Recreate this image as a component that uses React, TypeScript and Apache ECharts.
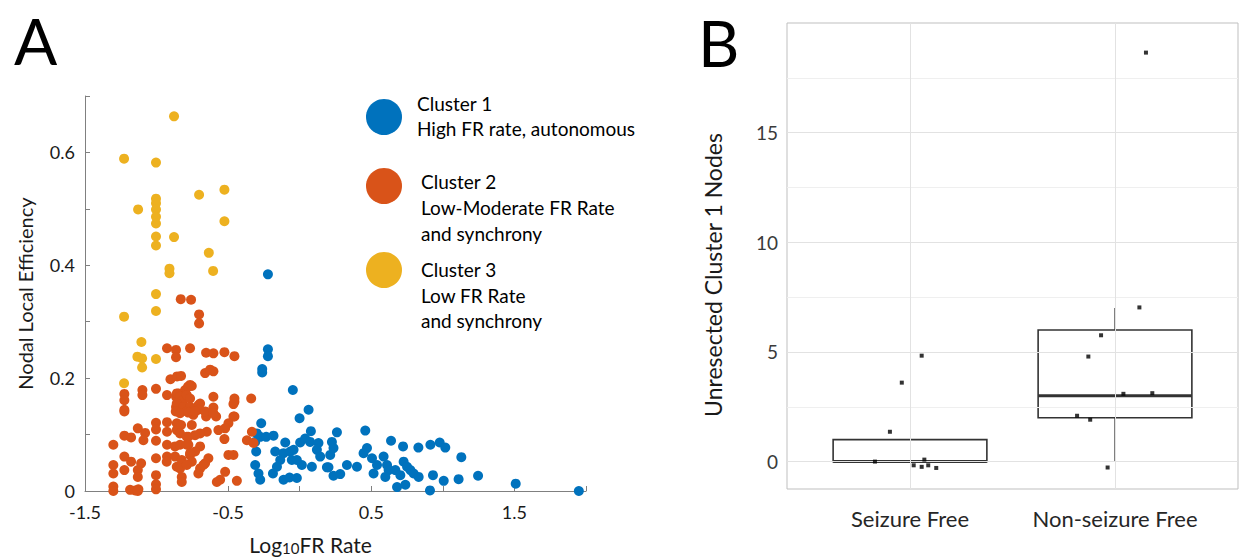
import React, { useEffect, useRef } from 'react';
import * as echarts from 'echarts';

// ---------- Panel A data (Log10 FR rate, nodal local efficiency) ----------
const cluster1: number[][] = [
  [-0.222, 0.384], [-0.222, 0.251], [-0.222, 0.239], [-0.262, 0.216], [-0.262, 0.21], [-0.048, 0.179],
  [0.062, 0.144], [-0.001, 0.129], [-0.269, 0.12], [0.458, 0.107], [0.26, 0.104], [0.078, 0.106],
  [0.638, 0.089], [0.722, 0.079], [0.829, 0.077], [0.913, 0.082], [0.978, 0.086], [1.017, 0.077],
  [1.129, 0.06], [1.246, 0.027], [1.509, 0.013], [1.95, 0.0], [0.91, 0.001], [0.68, 0.007],
  [0.738, 0.011], [1.006, 0.018], [1.11, 0.021], [0.931, 0.028],
  [-0.276, 0.096], [-0.234, 0.096], [-0.183, 0.098], [-0.101, 0.086], [0.003, 0.086], [0.038, 0.093],
  [0.073, 0.087], [0.131, 0.085], [0.225, 0.087], [0.236, 0.076], [0.213, 0.064], [0.19, 0.042],
  [-0.304, 0.07], [-0.171, 0.07], [-0.113, 0.067], [-0.066, 0.07], [-0.043, 0.073], [0.47, 0.076],
  [0.446, 0.067], [0.505, 0.058], [0.54, 0.046], [0.516, 0.031], [0.586, 0.061], [0.61, 0.046],
  [0.621, 0.037], [0.598, 0.025], [0.726, 0.052], [0.75, 0.043], [0.773, 0.037], [0.796, 0.031],
  [0.831, 0.025], [0.668, 0.037], [0.703, 0.028], [-0.311, 0.046], [-0.288, 0.031], [-0.276, 0.02],
  [-0.187, 0.031], [-0.113, 0.02], [-0.071, 0.024], [-0.02, 0.023], [0.015, 0.046], [0.085, 0.043],
  [0.12, 0.073], [0.143, 0.061], [0.201, 0.042], [0.236, 0.027], [0.283, 0.03], [0.33, 0.046],
  [0.4, 0.043], [-0.136, 0.055], [-0.159, 0.043], [-0.055, 0.055], [-0.02, 0.055], [-0.299, 0.102],
  [-0.311, 0.087],
];

const cluster2: number[][] = [
  [-0.831, 0.34], [-0.759, 0.339], [-0.703, 0.313], [-0.703, 0.297],
  [-0.927, 0.253], [-0.864, 0.25], [-0.864, 0.237], [-0.903, 0.198], [-0.857, 0.203], [-1.004, 0.181],
  [-1.099, 0.179], [-1.099, 0.17], [-1.225, 0.172], [-1.225, 0.161], [-1.225, 0.144], [-0.927, 0.17],
  [-0.864, 0.167], [-0.864, 0.149],
  [-0.766, 0.253], [-0.654, 0.245], [-0.603, 0.244], [-0.526, 0.246], [-0.456, 0.239], [-0.829, 0.204],
  [-0.661, 0.209], [-0.626, 0.215], [-0.603, 0.212], [-0.766, 0.188], [-0.801, 0.179], [-0.847, 0.173],
  [-0.603, 0.167], [-0.456, 0.164], [-0.339, 0.164], [-0.456, 0.158], [-0.696, 0.155], [-0.603, 0.148],
  [-0.78, 0.185], [-0.754, 0.186], [-0.859, 0.173], [-0.836, 0.167], [-0.813, 0.161], [-0.789, 0.17],
  [-0.766, 0.164], [-0.859, 0.155], [-0.813, 0.149], [-0.766, 0.149], [-0.789, 0.141], [-0.743, 0.135],
  [-0.708, 0.152], [-0.708, 0.144], [-0.654, 0.132], [-0.584, 0.132], [-0.463, 0.154], [-0.463, 0.132],
  [-0.334, 0.105], [-0.369, 0.09], [-0.323, 0.085],
  [-1.225, 0.141], [-0.866, 0.141], [-1.004, 0.121], [-1.004, 0.109], [-1.004, 0.089], [-0.927, 0.122],
  [-0.927, 0.105], [-1.131, 0.111], [-1.08, 0.103], [-1.092, 0.09], [-1.225, 0.098], [-1.178, 0.095],
  [-1.302, 0.082], [-0.859, 0.12], [-0.859, 0.108], [-0.927, 0.082], [-0.927, 0.061], [-0.871, 0.079],
  [-0.871, 0.061], [-0.859, 0.043], [-1.225, 0.061], [-1.178, 0.052], [-1.225, 0.037], [-1.108, 0.049],
  [-1.302, 0.046], [-1.302, 0.031], [-1.131, 0.037], [-1.131, 0.025], [-1.004, 0.058], [-1.004, 0.028],
  [-1.004, 0.012], [-1.004, 0.003], [-1.302, 0.008], [-1.302, 0.0], [-1.185, 0.002], [-1.15, 0.001],
  [-1.127, 0.003], [-1.131, 0.0],
  [-0.836, 0.138], [-0.778, 0.139], [-0.731, 0.141], [-0.661, 0.141], [-0.603, 0.138], [-0.456, 0.132],
  [-0.829, 0.117], [-0.754, 0.117], [-0.498, 0.12], [-0.521, 0.111], [-0.568, 0.108], [-0.649, 0.105],
  [-0.696, 0.102], [-0.731, 0.099], [-0.778, 0.096], [-0.778, 0.082], [-0.526, 0.092], [-0.696, 0.079],
  [-0.731, 0.07], [-0.766, 0.064], [-0.638, 0.058], [-0.661, 0.049], [-0.696, 0.04], [-0.498, 0.064],
  [-0.463, 0.064], [-0.824, 0.055], [-0.836, 0.04], [-0.824, 0.025], [-0.824, 0.016], [-0.521, 0.034],
  [-0.556, 0.02], [-0.579, 0.016], [-0.439, 0.018],
  [-0.708, 0.031], [-0.929, 0.052], [-0.766, 0.067], [-0.754, 0.052], [-0.789, 0.046], [-0.836, 0.102],
  [-0.789, 0.096], [-0.836, 0.082], [-0.789, 0.082], [-0.673, 0.046],
];

const cluster3: number[][] = [
  [-0.878, 0.664], [-1.227, 0.589], [-1.004, 0.582], [-0.526, 0.534], [-0.703, 0.525], [-1.004, 0.518],
  [-1.004, 0.51], [-1.004, 0.499], [-1.004, 0.486], [-1.004, 0.474], [-1.129, 0.499], [-0.526, 0.478],
  [-1.004, 0.451], [-1.004, 0.435], [-0.878, 0.45], [-0.635, 0.422], [-0.91, 0.394], [-0.91, 0.386],
  [-0.605, 0.39], [-1.004, 0.349], [-1.004, 0.319], [-1.227, 0.309], [-1.106, 0.264], [-1.134, 0.238],
  [-1.101, 0.235], [-1.101, 0.219], [-1.004, 0.234], [-1.227, 0.191],
];

const xTickLabelsA = ['-1.5', '-0.5', '0.5', '1.5'];
const yTickLabelsA = ['0', '0.2', '0.4', '0.6'];
const clusterNames = ['Cluster 1', 'Cluster 2', 'Cluster 3'];
const clusterDescs = ['High FR rate, autonomous', 'Low-Moderate FR Rate\nand synchrony', 'Low FR Rate\nand synchrony'];

// ---------- Panel B data ----------
const groupsB = ['Seizure Free', 'Non-seizure Free'];
// [min, Q1, median, Q3, max]
const boxStatsB = [
  [0, 0, 0, 1, 1],
  [0, 2, 3, 6, 7],
];
// jittered points: [x position (group index + jitter), value]
const pointsSeizureFree: number[][] = [
  [0.829, 0.0], [0.902, 1.36], [0.96, 3.6], [1.057, 4.83], [1.018, -0.17],
  [1.057, -0.24], [1.07, 0.09], [1.089, -0.17], [1.128, -0.29],
];
const pointsNonSeizureFree: number[][] = [
  [2.151, 18.65], [2.119, 7.03], [1.932, 5.76], [1.87, 4.79], [2.041, 3.09],
  [2.182, 3.12], [1.815, 2.09], [1.879, 1.91], [1.964, -0.27],
];
const yTickLabelsB = ['0', '5', '10', '15'];
const majorGridB = [0, 5, 10, 15];
const minorGridB = [2.5, 7.5, 12.5, 17.5];

const C1 = '#0072BD';
const C2 = '#D95319';
const C3 = '#EDB120';
const FONT = 'Lato, "Open Sans", sans-serif';

export default function App() {
  const ref = useRef<HTMLDivElement>(null);

  useEffect(() => {
    if (!ref.current) return;
    const chart = echarts.init(ref.current, null, { renderer: 'svg' });

    const boxData = boxStatsB.map((s, i) => [i + 1, ...s]);

    const option: any = {
      animation: false,
      backgroundColor: '#ffffff',
      textStyle: { fontFamily: FONT },
      grid: [
        { left: 85, top: 96, width: 501, height: 395, containLabel: false, outerBoundsMode: 'none' },
        {
          left: 787, top: 23, width: 451, height: 466, containLabel: false, outerBoundsMode: 'none',
          show: true, borderColor: '#bfbfbf', borderWidth: 1, backgroundColor: 'transparent',
        },
      ],
      xAxis: [
        {
          type: 'value', gridIndex: 0, min: -1.5, max: 2, interval: 0.5,
          axisLine: { show: true, onZero: false, lineStyle: { color: '#808080', width: 1 } },
          axisTick: { show: true, inside: true, length: 5, lineStyle: { color: '#808080' } },
          axisLabel: {
            color: '#1a1a1a', fontSize: 18, margin: 12, fontFamily: FONT,
            formatter: (v: number) => (xTickLabelsA.indexOf(String(v)) >= 0 ? String(v) : ''),
          },
          splitLine: { show: false },
          name: '{a|Log}{b|10}{a|FR Rate}',
          nameLocation: 'middle',
          nameGap: 42,
          nameTextStyle: {
            padding: [0, 50, 0, 0],
            rich: {
              a: { fontSize: 21, fontFamily: FONT, color: '#1a1a1a', lineHeight: 22 },
              b: { fontSize: 15, fontFamily: FONT, color: '#1a1a1a', lineHeight: 13, verticalAlign: 'bottom' },
            },
          },
        },
        {
          type: 'value', gridIndex: 1, min: 0.4, max: 2.6, interval: 0.2,
          axisLine: { show: false },
          axisTick: { show: false },
          splitLine: { show: false },
          axisLabel: {
            color: '#262626', fontSize: 22, margin: 18, fontFamily: FONT,
            formatter: (v: number) => {
              for (let i = 0; i < groupsB.length; i++) if (Math.abs(v - (i + 1)) < 1e-6) return groupsB[i];
              return '';
            },
          },
        },
      ],
      yAxis: [
        {
          type: 'value', gridIndex: 0, min: 0, max: 0.7, interval: 0.1,
          axisLine: { show: true, onZero: false, lineStyle: { color: '#808080', width: 1 } },
          axisTick: { show: true, inside: true, length: 5, lineStyle: { color: '#808080' } },
          axisLabel: {
            color: '#1a1a1a', fontSize: 18, margin: 10, fontFamily: FONT,
            formatter: (v: number) => (yTickLabelsA.indexOf(String(v)) >= 0 ? String(v) : ''),
          },
          splitLine: { show: false },
          name: 'Nodal Local Efficiency',
          nameLocation: 'middle',
          nameGap: 50,
          nameTextStyle: { fontSize: 20, color: '#1a1a1a', fontFamily: FONT },
        },
        {
          type: 'value', gridIndex: 1, min: -1.25, max: 20, interval: 1.25,
          axisLine: { show: false },
          axisTick: { show: false },
          splitLine: { show: false },
          axisLabel: {
            color: '#3a3a3a', fontSize: 19, margin: 9, fontFamily: FONT,
            formatter: (v: number) => (yTickLabelsB.indexOf(String(v)) >= 0 ? String(v) : ''),
          },
          name: 'Unresected Cluster 1 Nodes',
          nameLocation: 'middle',
          nameGap: 63,
          nameTextStyle: { fontSize: 23, color: '#1a1a1a', fontFamily: FONT, padding: [0, 38, 0, 0] },
        },
      ],
      series: [
        {
          type: 'scatter', name: clusterNames[0], xAxisIndex: 0, yAxisIndex: 0, data: cluster1,
          symbol: 'circle', symbolSize: 10, itemStyle: { color: C1, opacity: 1 }, z: 3,
        },
        {
          type: 'scatter', name: clusterNames[1], xAxisIndex: 0, yAxisIndex: 0, data: cluster2,
          symbol: 'circle', symbolSize: 10, itemStyle: { color: C2, opacity: 1 }, z: 4,
        },
        {
          type: 'scatter', name: clusterNames[2], xAxisIndex: 0, yAxisIndex: 0, data: cluster3,
          symbol: 'circle', symbolSize: 10, itemStyle: { color: C3, opacity: 1 }, z: 5,
        },
        // gridlines for panel B
        {
          type: 'line', xAxisIndex: 1, yAxisIndex: 1, data: [], z: 1, silent: true,
          markLine: {
            silent: true, symbol: ['none', 'none'], label: { show: false }, animation: false,
            data: [
              ...minorGridB.map((v) => ({ yAxis: v, lineStyle: { color: '#efefef', width: 1, type: 'solid' } })),
              ...majorGridB.map((v) => ({ yAxis: v, lineStyle: { color: '#e2e2e2', width: 1, type: 'solid' } })),
              ...groupsB.map((_, i) => ({ xAxis: i + 1, lineStyle: { color: '#e2e2e2', width: 1, type: 'solid' } })),
            ],
          },
        },
        {
          type: 'custom', xAxisIndex: 1, yAxisIndex: 1, data: boxData, z: 2,
          encode: { x: 0, y: [1, 2, 3, 4, 5] },
          renderItem: (_params: any, api: any) => {
            const x = api.value(0);
            const mn = api.value(1), q1 = api.value(2), med = api.value(3), q3 = api.value(4), mx = api.value(5);
            const hw = 0.375;
            const tl = api.coord([x - hw, q3]);
            const br = api.coord([x + hw, q1]);
            const ml = api.coord([x - hw, med]);
            const mr = api.coord([x + hw, med]);
            const top = api.coord([x, mx]);
            const q3c = api.coord([x, q3]);
            const q1c = api.coord([x, q1]);
            const bot = api.coord([x, mn]);
            const stroke = '#333333';
            return {
              type: 'group',
              children: [
                { type: 'line', shape: { x1: q3c[0], y1: q3c[1], x2: top[0], y2: top[1] }, style: { stroke: '#555', lineWidth: 1.5 } },
                { type: 'line', shape: { x1: q1c[0], y1: q1c[1], x2: bot[0], y2: bot[1] }, style: { stroke: '#555', lineWidth: 1.5 } },
                {
                  type: 'rect',
                  shape: { x: tl[0], y: tl[1], width: br[0] - tl[0], height: br[1] - tl[1] },
                  style: { fill: '#ffffff', stroke, lineWidth: 1.6 },
                },
                { type: 'line', shape: { x1: ml[0], y1: ml[1], x2: mr[0], y2: mr[1] }, style: { stroke, lineWidth: 3 } },
              ],
            };
          },
        },
        {
          type: 'scatter', xAxisIndex: 1, yAxisIndex: 1, data: pointsSeizureFree, z: 6,
          symbol: 'rect', symbolSize: 4, itemStyle: { color: '#000000' },
        },
        {
          type: 'scatter', xAxisIndex: 1, yAxisIndex: 1, data: pointsNonSeizureFree, z: 6,
          symbol: 'rect', symbolSize: 4, itemStyle: { color: '#000000' },
        },
      ],
      graphic: [
        { type: 'text', left: 14, top: 8, style: { text: 'A', font: `64px ${FONT}`, fill: '#000' } },
        { type: 'text', left: 698, top: 10, style: { text: 'B', font: `64px ${FONT}`, fill: '#000' } },
        { type: 'circle', shape: { cx: 384, cy: 117, r: 18 }, style: { fill: C1 } },
        { type: 'circle', shape: { cx: 384, cy: 186, r: 18 }, style: { fill: C2 } },
        { type: 'circle', shape: { cx: 384, cy: 270, r: 18 }, style: { fill: C3 } },
        {
          type: 'text', x: 417, y: 91,
          style: { text: clusterNames[0] + '\n' + clusterDescs[0], font: `19px ${FONT}`, lineHeight: 25, fill: '#000', align: 'left', verticalAlign: 'top' },
        },
        {
          type: 'text', x: 421, y: 169,
          style: { text: clusterNames[1] + '\n' + clusterDescs[1], font: `19px ${FONT}`, lineHeight: 25.8, fill: '#000', align: 'left', verticalAlign: 'top' },
        },
        {
          type: 'text', x: 421, y: 257,
          style: { text: clusterNames[2] + '\n' + clusterDescs[2], font: `19px ${FONT}`, lineHeight: 25.5, fill: '#000', align: 'left', verticalAlign: 'top' },
        },
      ],
    };

    chart.setOption(option);
    return () => chart.dispose();
  }, []);

  return (
    <div
      ref={ref}
      style={{ position: 'fixed', left: 0, top: 0, width: 1241, height: 560, background: '#fff' }}
    />
  );
}
